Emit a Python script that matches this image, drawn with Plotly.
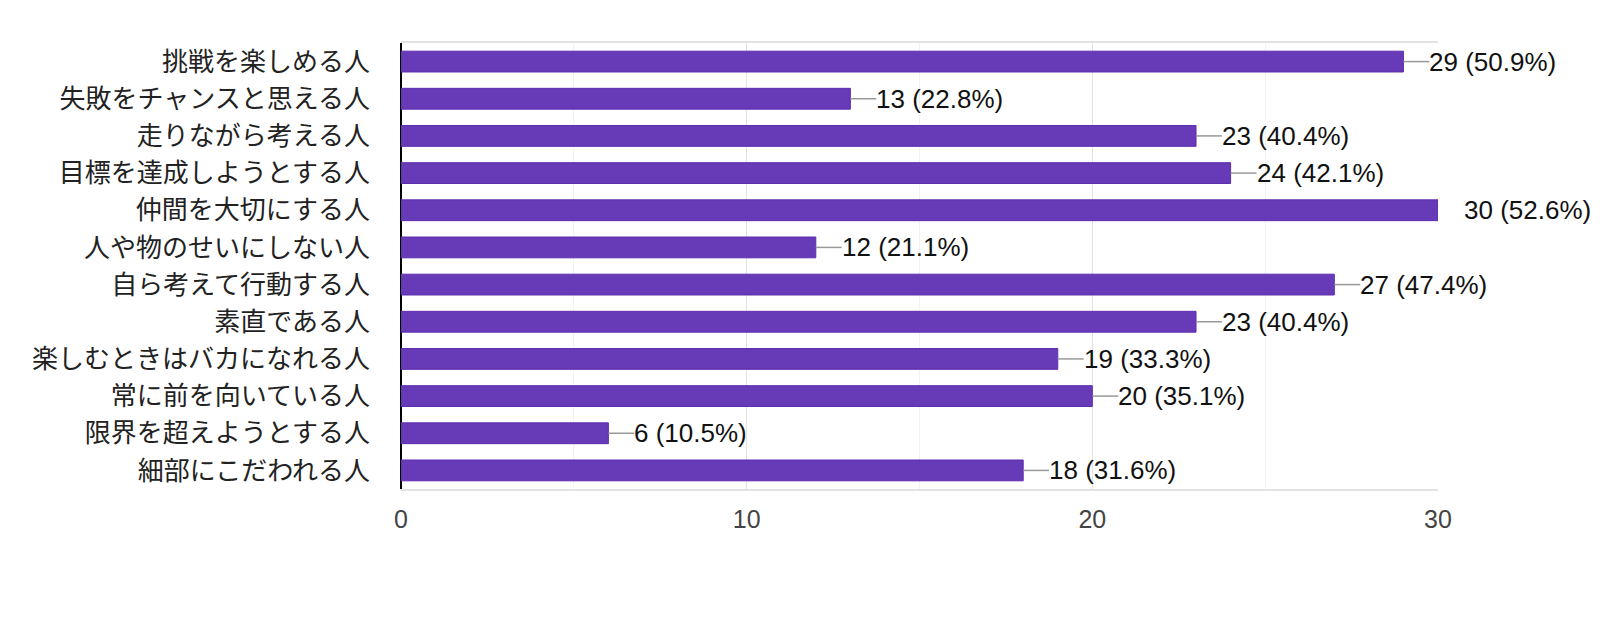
import plotly.graph_objects as go

categories = [
    "挑戦を楽しめる人",
    "失敗をチャンスと思える人",
    "走りながら考える人",
    "目標を達成しようとする人",
    "仲間を大切にする人",
    "人や物のせいにしない人",
    "自ら考えて行動する人",
    "素直である人",
    "楽しむときはバカになれる人",
    "常に前を向いている人",
    "限界を超えようとする人",
    "細部にこだわれる人",
]
counts = [29, 13, 23, 24, 30, 12, 27, 23, 19, 20, 6, 18]
percents = [50.9, 22.8, 40.4, 42.1, 52.6, 21.1, 47.4, 40.4, 33.3, 35.1, 10.5, 31.6]
tick_vals = [0, 10, 20, 30]

FONT = "Liberation Sans, Arial, Noto Sans CJK JP, sans-serif"
LEADER = 0.75  # leader line length in data units

fig = go.Figure(
    go.Bar(
        x=counts,
        y=categories,
        orientation="h",
        marker=dict(color="#673ab7", line=dict(color="#5e2db0", width=1)),
        hoverinfo="skip",
    )
)

for c, v, p in zip(categories, counts, percents):
    fig.add_shape(
        type="line", xref="x", yref="y",
        x0=v, x1=v + LEADER, y0=c, y1=c,
        line=dict(color="#999999", width=1.5),
        layer="above",
    )
    fig.add_annotation(
        x=v, y=c, xref="x", yref="y",
        text=f"{v} ({p}%)",
        showarrow=False, xanchor="left", yanchor="middle",
        xshift=24,
        font=dict(family=FONT, size=26, color="#111111"),
    )

fig.update_layout(
    width=1600, height=621,
    margin=dict(l=401, r=162, t=43, b=132),
    paper_bgcolor="white", plot_bgcolor="white",
    bargap=0.44,
    showlegend=False,
    font=dict(family=FONT),
)
fig.update_xaxes(
    range=[0, 30],
    tickvals=tick_vals,
    tickfont=dict(family=FONT, size=25, color="#444444"),
    showgrid=True, gridcolor="#e3e3e3", gridwidth=1,
    minor=dict(dtick=5, showgrid=True, gridcolor="#f2f2f2", gridwidth=1),
    zeroline=True, zerolinecolor="#000000", zerolinewidth=2,
    showline=True, linecolor="#e3e3e3", linewidth=2, mirror=True,
    ticks="", ticklabelstandoff=7,
)
fig.update_yaxes(
    categoryorder="array", categoryarray=categories,
    autorange="reversed",
    tickfont=dict(family=FONT, size=26, color="#222222"),
    ticks="", showgrid=False, ticklabelstandoff=30,
)

fig.write_html("out.html")
